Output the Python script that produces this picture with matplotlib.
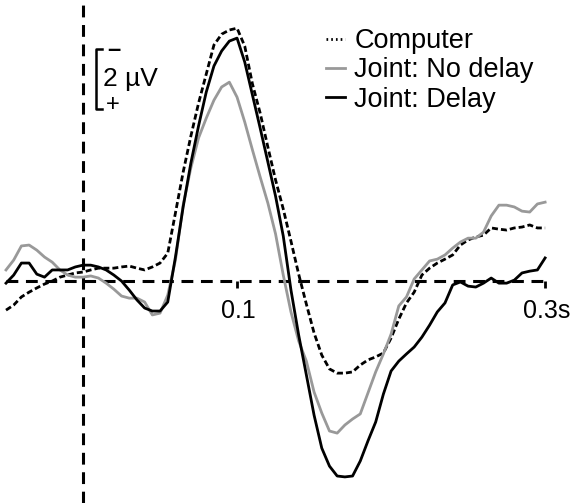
import numpy as np
import matplotlib
matplotlib.use("Agg")
import matplotlib.pyplot as plt
from matplotlib.lines import Line2D

plt.rcParams['font.family'] = ['Liberation Sans', 'DejaVu Sans']
plt.rcParams['lines.scale_dashes'] = False

# time axis (s), 5 ms steps
t = np.round(np.arange(-0.05, 0.3001, 0.005), 3)

# amplitudes in microvolts (negative plotted upward)
computer = [0.97, 0.80, 0.53, 0.37, 0.23, 0.10, 0.00, -0.13, -0.20, -0.27,
            -0.30, -0.37, -0.43, -0.43, -0.43, -0.47, -0.50, -0.43, -0.37, -0.47,
            -0.60, -0.93, -2.27, -3.63, -4.83, -5.93, -6.90, -7.87, -8.23, -8.37,
            -8.43, -7.83, -6.57, -5.60, -4.47, -3.37, -2.40, -1.33, -0.23, 0.77,
            1.73, 2.47, 2.93, 3.07, 3.07, 3.03, 2.80, 2.63, 2.53, 2.40,
            1.90, 1.27, 0.73, 0.37, -0.20, -0.43, -0.60, -0.73, -0.87, -1.20,
            -1.37, -1.47, -1.53, -1.77, -1.73, -1.70, -1.77, -1.80, -1.87, -1.77,
            -1.77]

joint_no_delay = [-0.37, -0.70, -1.17, -1.20, -1.03, -0.80, -0.63, -0.37, -0.20, -0.13,
                  -0.13, -0.17, -0.10, 0.07, 0.27, 0.50, 0.57, 0.57, 0.70, 1.13,
                  1.07, 0.47, -0.70, -2.53, -3.77, -4.77, -5.43, -6.03, -6.47, -6.63,
                  -6.13, -5.30, -4.37, -3.47, -2.60, -1.57, -0.20, 1.03, 2.00, 2.67,
                  3.70, 4.40, 5.00, 5.07, 4.80, 4.60, 4.43, 3.73, 3.03, 2.43,
                  1.77, 0.83, 0.53, -0.07, -0.37, -0.67, -0.73, -0.87, -1.10, -1.30,
                  -1.43, -1.43, -1.63, -2.17, -2.53, -2.53, -2.47, -2.33, -2.30, -2.57,
                  -2.63]

joint_delay = [0.07, -0.20, -0.60, -0.60, -0.23, -0.13, -0.37, -0.37, -0.37, -0.47,
               -0.53, -0.53, -0.47, -0.37, -0.20, 0.00, 0.30, 0.63, 0.90, 1.00,
               1.00, 0.70, -0.80, -2.47, -3.93, -5.17, -6.30, -7.17, -7.67, -8.00,
               -8.10, -7.30, -6.20, -5.10, -3.97, -2.83, -1.50, 0.30, 1.80, 3.13,
               4.47, 5.57, 6.17, 6.50, 6.53, 6.50, 6.00, 5.33, 4.70, 3.77,
               3.00, 2.67, 2.43, 2.20, 1.87, 1.47, 1.03, 0.73, 0.13, 0.03,
               0.17, 0.20, 0.07, -0.10, 0.07, 0.07, -0.03, -0.27, -0.33, -0.37,
               -0.77]

tick_pos = [0.1, 0.3]
tick_labels = ['0.1', '0.3s']

fig = plt.figure(figsize=(5.79, 5.03), dpi=100)
ax = fig.add_axes([0, 0, 1, 1])
ax.set_xlim(-0.0539, 0.322)
ax.set_ylim(7.4, -9.37)
ax.axis('off')

# zero lines
ax.axvline(0, color='black', lw=2.2, dashes=(8.5, 5.5))
ax.plot([t[0], t[-1]], [0, 0], color='black', lw=2.2, dashes=(8.5, 5.5))

# ticks on zero line
ax.vlines(tick_pos, 0, 0.22, color='black', lw=2)
for x, lab in zip(tick_pos, tick_labels):
    ax.text(x + 0.001, 1.0, lab, ha='center', va='center', fontsize=18)

# traces
ax.plot(t, computer, color='black', lw=2, dashes=(4.3, 2.2))
ax.plot(t, joint_no_delay, color='#999999', lw=2)
ax.plot(t, joint_delay, color='black', lw=2)

# scale bar (2 µV)
sb_x, sb_top, sb_bot = 0.0085, -7.73, -5.73
ax.plot([sb_x + 0.004, sb_x, sb_x, sb_x + 0.004], [sb_top, sb_top, sb_bot, sb_bot],
        color='black', lw=1.8)
ax.text(sb_x + 0.007, sb_top + 0.02, '\u2013', ha='left', va='center', fontsize=17,
        fontweight='bold')
ax.text(sb_x + 0.0065, sb_bot - 0.15, '+', ha='left', va='center', fontsize=17)
ax.text(sb_x + 0.0042, (sb_top + sb_bot) / 2, '2 \u00b5V', ha='left', va='center',
        fontsize=19)

# legend
handles = [Line2D([], [], color='black', lw=2, linestyle=(0, (1.2, 2.2))),
           Line2D([], [], color='#999999', lw=2),
           Line2D([], [], color='black', lw=2)]
labels = ['Computer', 'Joint: No delay', 'Joint: Delay']
ax.legend(handles, labels, loc='upper left', bbox_to_anchor=(0.563, 0.944),
          frameon=False, fontsize=19.5, handlelength=0.7, handletextpad=0.35,
          labelspacing=0.12, borderaxespad=0, borderpad=0)

fig.savefig('out.png', dpi=100)
